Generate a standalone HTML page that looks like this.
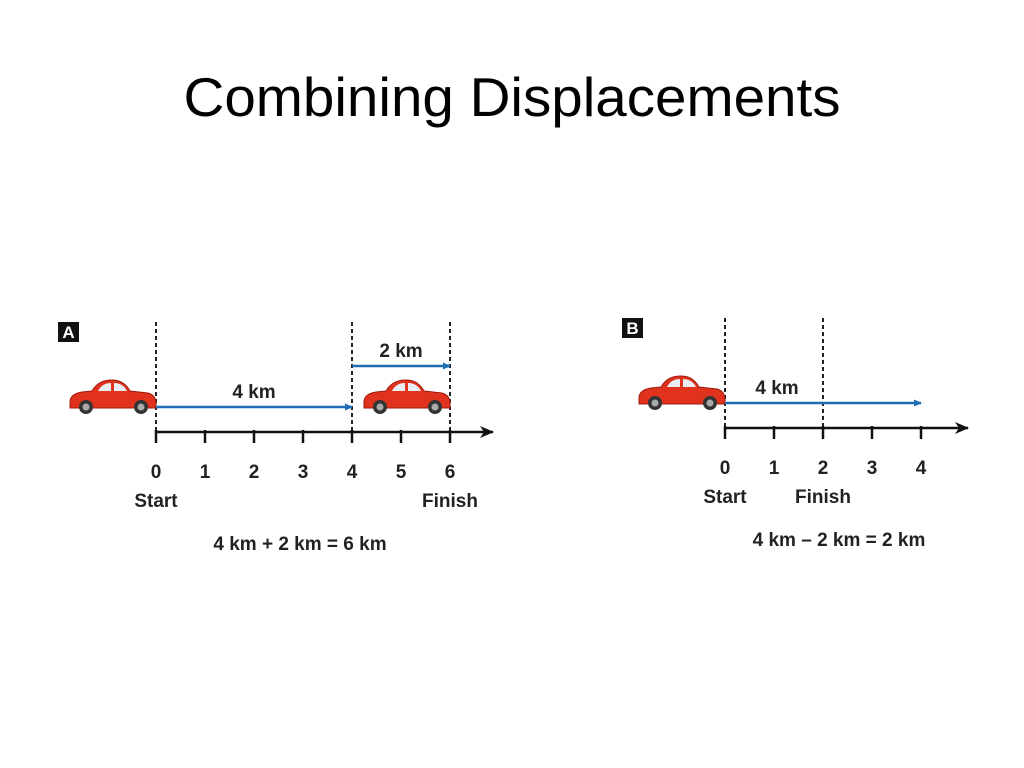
<!DOCTYPE html>
<html><head><meta charset="utf-8"><style>
body{margin:0;background:#fff;}
svg{display:block;font-family:"Liberation Sans",sans-serif;}
</style></head><body>
<svg width="1024" height="768" viewBox="0 0 1024 768">
<defs>
<marker id="ab" markerWidth="8" markerHeight="8" refX="7" refY="4" orient="auto" markerUnits="userSpaceOnUse"><path d="M0,0.5 L8,4 L0,7.5 z" fill="#1f6db5"/></marker>
<marker id="ak" markerWidth="14" markerHeight="12" refX="13" refY="6" orient="auto" markerUnits="userSpaceOnUse"><path d="M0,0 L14,6 L0,12 L4,6 z" fill="#111"/></marker>
<g id="car">
<path d="M2,22 Q2,14 14,12 L24,11 Q30,0 44,0 Q56,0 62,11 L80,13 Q88,15 88,24 L88,28 L2,28 z" fill="#e0321c" stroke="#a01a0c" stroke-width="1"/>
<path d="M30,11 Q34,3 43,3 L43,11 z M46,3 Q55,3 59,11 L46,11 z" fill="#e9eef2"/>
<circle cx="18" cy="27" r="7" fill="#333"/><circle cx="18" cy="27" r="3.5" fill="#aaa"/>
<circle cx="73" cy="27" r="7" fill="#333"/><circle cx="73" cy="27" r="3.5" fill="#aaa"/>
</g>
</defs>
<text x="512" y="116" font-size="55" text-anchor="middle" textLength="657" lengthAdjust="spacingAndGlyphs">Combining Displacements</text>
<g id="panels"></g>
</svg>
<script>
const ticksA=[0,1,2,3,4,5,6];
const ticksB=[0,1,2,3,4];
const dashedA=[0,4,6];
const dashedB=[0,2];
const vectorsA=[[0,4,"4 km"],[4,6,"2 km"]];
const vectorsB=[[0,4,"4 km"]];
const carsA=[0,6];
const carsB=[0];
const startFinishA=[[0,"Start"],[6,"Finish"]];
const startFinishB=[[0,"Start"],[2,"Finish"]];
const NS="http://www.w3.org/2000/svg";
const root=document.getElementById('panels');
function mk(t,a,p){const e=document.createElementNS(NS,t);for(const k in a)e.setAttribute(k,a[k]);(p||root).appendChild(e);return e;}
function panel(o){
  const g=mk('g',{});
  
  
  const X=v=>o.x0+v*o.u;
  const lb=mk('rect',{x:o.lx,y:o.ay-110,width:21,height:20,fill:'#111'},g);
  
  const lt=mk('text',{x:o.lx+10.5,y:o.ay-94,'font-size':17,'font-weight':'bold',fill:'#fff','text-anchor':'middle'},g);lt.textContent=o.id;
  
  o.dashed.forEach(v=>{const l=mk('line',{x1:X(v),x2:X(v),y1:o.ay-110,y2:o.ay,stroke:'#222','stroke-width':2,'stroke-dasharray':'4 3'},g);
    });
  const ax=mk('line',{x1:X(0),x2:o.axEnd,y1:o.ay,y2:o.ay,stroke:'#111','stroke-width':2.5,'marker-end':'url(#ak)'},g);
  
  o.ticks.forEach(v=>{const t=mk('line',{x1:X(v),x2:X(v),y1:o.ay-2,y2:o.ay+11,stroke:'#111','stroke-width':2.5},g);
    
    const tx=mk('text',{x:X(v),y:o.ay+46,'font-size':19,'font-weight':'bold',fill:'#222','text-anchor':'middle'},g);tx.textContent=v;
    });
  o.sf.forEach(([v,s])=>{const t=mk('text',{x:X(v),y:o.ay+75,'font-size':19,'font-weight':'bold',fill:'#222','text-anchor':'middle'},g);t.textContent=s;
    });
  o.cars.forEach(v=>{const u=mk('use',{href:'#car',x:X(v)-88,y:o.ay-52},g);
    });
  o.vecs.forEach(([a,b,s],i)=>{const y=i==0?o.ay-25:o.ay-66;
    const l=mk('line',{x1:X(a),x2:X(b),y1:y,y2:y,stroke:'#1f6db5','stroke-width':2.5,'marker-end':'url(#ab)'},g);
    
    const t=mk('text',{x:o.vlx?o.vlx:(X(a)+X(b))/2,y:y-9,'font-size':19,'font-weight':'bold',fill:'#222','text-anchor':'middle'},g);t.textContent=s;
    });
  const eq=mk('text',{x:o.eqx,y:o.ay+118,'font-size':19,'font-weight':'bold',fill:'#222','text-anchor':'middle'},g);eq.textContent=o.eq;
  
}
panel({id:'A',x0:156,u:49,ay:432,axEnd:493,lx:58,dashed:dashedA,ticks:ticksA,sf:startFinishA,cars:carsA,vecs:vectorsA,eq:'4 km + 2 km = 6 km',eqx:300});
panel({id:'B',x0:725,u:49,ay:428,axEnd:968,lx:622,dashed:dashedB,ticks:ticksB,sf:startFinishB,cars:carsB,vecs:vectorsB,vlx:777,eq:'4 km \u2013 2 km = 2 km',eqx:839});
</script>
</body></html>
